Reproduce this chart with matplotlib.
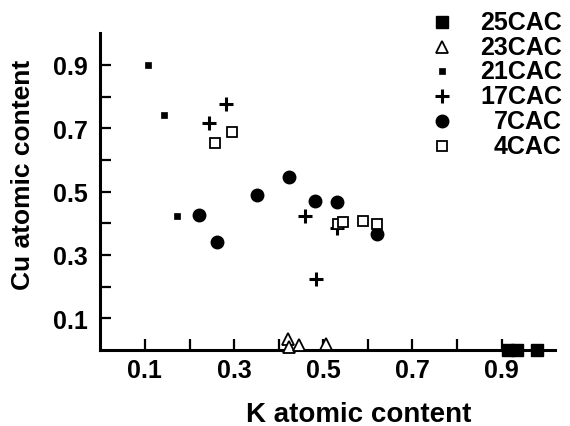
import numpy as np
import matplotlib.pyplot as plt

plt.rcParams['font.family'] = ['Liberation Sans', 'DejaVu Sans']
plt.rcParams['font.weight'] = 'bold'

# K and Cu atomic content per sample group
k_25 = [0.915, 0.935, 0.98]
cu_25 = [0.0, 0.0, 0.0]

k_23 = [0.42, 0.424, 0.446, 0.505]
cu_23 = [0.035, 0.01, 0.016, 0.02]

k_21 = [0.107, 0.143, 0.172]
cu_21 = [0.90, 0.743, 0.422]

k_17 = [0.282, 0.244, 0.459, 0.531, 0.484]
cu_17 = [0.775, 0.717, 0.422, 0.384, 0.225]

k_7 = [0.422, 0.351, 0.482, 0.531, 0.221, 0.262, 0.621]
cu_7 = [0.545, 0.488, 0.469, 0.466, 0.426, 0.340, 0.365]

k_4 = [0.296, 0.257, 0.532, 0.545, 0.59, 0.621]
cu_4 = [0.689, 0.652, 0.397, 0.403, 0.406, 0.397]

labels = ['25CAC', '23CAC', '21CAC', '17CAC', '7CAC', '4CAC']

series = [
    (k_25, cu_25, dict(marker='s', ms=9, mfc='black', mec='black', mew=1)),
    (k_23, cu_23, dict(marker='^', ms=8, mfc='white', mec='black', mew=1.3)),
    (k_21, cu_21, dict(marker='s', ms=4.5, mfc='black', mec='black', mew=0.5)),
    (k_17, cu_17, dict(marker='+', ms=10, mec='black', mew=2.2)),
    (k_7, cu_7, dict(marker='o', ms=9, mfc='black', mec='black', mew=1)),
    (k_4, cu_4, dict(marker='s', ms=7, mfc='white', mec='black', mew=1.3)),
]

fig = plt.figure(figsize=(5.7, 4.27), dpi=100)
ax = fig.add_axes([0.176, 0.178, 0.798, 0.742])

for x, y, st in series:
    ax.plot(x, y, linestyle='none', clip_on=False, zorder=3, **st)

ax.set_xlim(0, 1.02)
ax.set_ylim(0, 1.0)
for s in ['top', 'right']:
    ax.spines[s].set_visible(False)
for s in ['left', 'bottom']:
    ax.spines[s].set_linewidth(2.2)

ax.set_xticks([0.1, 0.3, 0.5, 0.7, 0.9])
ax.set_xticks([0.2, 0.4, 0.6, 0.8], minor=True)
ax.set_yticks([0.1, 0.3, 0.5, 0.7, 0.9])
ax.set_yticks([0.2, 0.4, 0.6, 0.8], minor=True)
ax.set_xticklabels(['0.1', '0.3', '0.5', '0.7', '0.9'])
ax.set_yticklabels(['0.1', '0.3', '0.5', '0.7', '0.9'])
ax.tick_params(which='both', direction='in', length=8, width=1.6, labelsize=18)
ax.tick_params(axis='x', pad=6)
ax.tick_params(axis='y', pad=9)

ax.set_xlabel('K atomic content', fontsize=20, fontweight='bold')
ax.set_ylabel('Cu atomic content', fontsize=19, fontweight='bold')
ax.xaxis.set_label_coords(0.568, -0.16)
ax.yaxis.set_label_coords(-0.144, 0.555)

# legend drawn by hand so the labels sit right-aligned like the original
row_y = 1 - np.array([23, 48, 72, 97, 122, 147]) / 427
for (x, y, st), lab, yy in zip(series, labels, row_y):
    st2 = dict(st)
    if lab == '21CAC':
        st2['ms'] = 5
    ax.plot([442 / 570], [yy], transform=fig.transFigure, clip_on=False,
            linestyle='none', **st2)
    fig.text(562 / 570, yy, lab, ha='right', va='center', fontsize=18,
             fontweight='bold')

fig.savefig('out.png', dpi=100)
